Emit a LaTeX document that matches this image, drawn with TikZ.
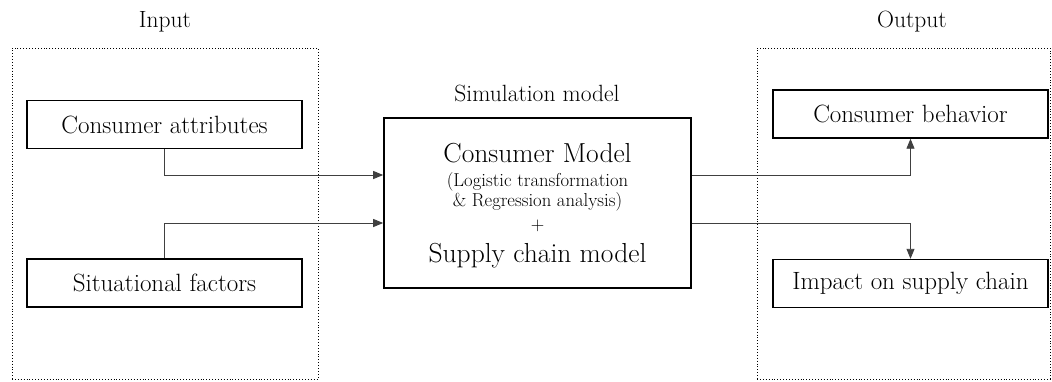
\documentclass[tikz,border=0pt]{standalone}
\usetikzlibrary{arrows.meta}
\begin{document}
\begin{tikzpicture}[x=1pt,y=-1pt,
  box/.style={draw, line width=1.4pt, minimum width=275pt, minimum height=48pt, inner sep=0pt, font=\fontsize{25}{30}\selectfont},
  mainbox/.style={draw, line width=1.6pt, minimum width=307pt, minimum height=170pt, inner sep=0pt},
  frame/.style={draw, dotted, line width=0.9pt, inner sep=0pt},
  lbl/.style={font=\fontsize{23.5}{28}\selectfont},
  big/.style={anchor=base, font=\fontsize{27.5}{32}\selectfont},
  small/.style={anchor=base, font=\fontsize{18.7}{22}\selectfont},
  arr/.style={draw=black!75, line width=0.9pt, -{Triangle[length=10pt,width=8pt]}}
]
\useasboundingbox (0,0) rectangle (1052,381);
\node[frame, minimum width=306pt, minimum height=331pt] (inframe) at (165,213.5) {};
\node[frame, minimum width=293pt, minimum height=331pt] (outframe) at (903.5,213.5) {};
\node[lbl] (inlbl) at (165,22) {Input};
\node[lbl] (outlbl) at (912,22) {Output};
\node[lbl] (simlbl) at (537,93) {Simulation model};
\node[box] (ca) at (164.5,124.5) {Consumer attributes};
\node[box] (sf) at (164.5,283) {Situational factors};
\node[box] (cb) at (910.5,114) {Consumer behavior};
\node[box] (ip) at (910.5,283.5) {Impact on supply chain};
\node[mainbox] (sim) at (537.5,203) {};
\node[big] (t1) at (537.5,162) {Consumer Model};
\node[small] (t2) at (537.5,186) {(Logistic transformation};
\node[small] (t3) at (537.5,206) {\& Regression analysis)};
\node[small] (t4) at (537.5,230) {+};
\node[big] (t5) at (537.5,262) {Supply chain model};
\draw[arr] (ca.south) |- ([yshift=28pt]sim.west);
\draw[arr] (sf.north) |- ([yshift=-20pt]sim.west);
\draw[arr] ([yshift=28pt]sim.east) -| (cb.south);
\draw[arr] ([yshift=-20pt]sim.east) -| (ip.north);
\end{tikzpicture}
\end{document}
